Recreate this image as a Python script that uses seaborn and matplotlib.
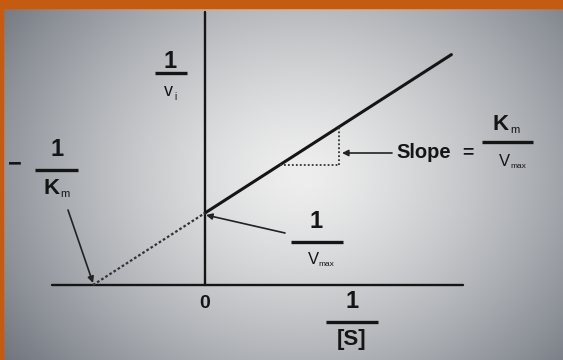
import numpy as np
import matplotlib
matplotlib.use("Agg")
import matplotlib.pyplot as plt
import seaborn as sns
from matplotlib.patches import Rectangle

# ---- data (Lineweaver-Burk) ----
Km = 1.0
Vmax = 1.0
x_solid = [0.0, 2.2]
x_dotted = [-1.0 / Km, 0.0]
x_axis_span = [-1.37, 2.30]
y_axis_span = [0.0, 3.79]
tri_x = [0.67, 1.20]

def line(x):
    return [Km / Vmax * xi + 1.0 / Vmax for xi in x]

sns.set_theme(style="white")
plt.rcParams["font.family"] = ["Liberation Sans", "DejaVu Sans"]

fig = plt.figure(figsize=(5.63, 3.60), dpi=100)
ax = fig.add_axes([0, 0, 1, 1])
X0, Y0, SX, SY = 205.0, 285.0, 112.0, 72.0
xlim = (-X0 / SX, (563 - X0) / SX)
ylim = ((Y0 - 360) / SY, Y0 / SY)
ax.set_xlim(*xlim)
ax.set_ylim(*ylim)
ax.axis("off")

def P(px, py):
    return ((px - X0) / SX, (Y0 - py) / SY)

# background gradient
W, H = 563, 360
gx, gy = np.meshgrid(np.arange(W), np.arange(H))
d = np.sqrt(((gx - 300) / 330.0) ** 2 + ((gy - 175) / 270.0) ** 2)
t = np.clip(d, 0, 1.2) / 1.2
t = t ** 1.4
c0 = np.array([238, 238, 238]) / 255.0
c1 = np.array([100, 106, 116]) / 255.0
img = c0[None, None, :] * (1 - t[..., None]) + c1[None, None, :] * t[..., None]
ax.imshow(img, extent=(xlim[0], xlim[1], ylim[0], ylim[1]), origin="upper",
          aspect="auto", zorder=0, interpolation="bilinear")

dark = "#151515"
# axes
ax.plot(x_axis_span, [0, 0], color=dark, lw=1.7, zorder=2)
ax.plot([0, 0], y_axis_span, color=dark, lw=1.7, zorder=2)

# data lines
sns.lineplot(x=x_solid, y=line(x_solid), ax=ax, color=dark, lw=2.2, zorder=3)
sns.lineplot(x=x_dotted, y=line(x_dotted), ax=ax, color="#333333", lw=1.6,
             linestyle=(0, (1.2, 1.0)), zorder=3)

# slope triangle
ty = line(tri_x)
ax.plot(tri_x, [ty[0], ty[0]], color="#333333", lw=1.3, linestyle=(0, (1, 1.2)), zorder=3)
ax.plot([tri_x[1], tri_x[1]], [ty[0], ty[1]], color="#333333", lw=1.3,
        linestyle=(0, (1, 1.2)), zorder=3)

def txt(px, py, s, size, weight="bold", color=dark):
    ax.text(*P(px, py), s, ha="center", va="center", fontsize=size,
            fontweight=weight, color=color, zorder=5)

def bar(x1, x2, py, lw=2.4):
    a = P(x1, py); b = P(x2, py)
    ax.plot([a[0], b[0]], [a[1], b[1]], color=dark, lw=lw, solid_capstyle="butt", zorder=5)

def arrow(start, end):
    ax.annotate("", xy=P(*end), xytext=P(*start),
                arrowprops=dict(arrowstyle="-|>", lw=1.2, color="#222222",
                                mutation_scale=9, shrinkA=0, shrinkB=0), zorder=5)

# 1 / v_i
txt(170, 61, "1", 17)
bar(155, 187, 73)
txt(168, 92, "v", 13, "normal")
txt(175, 97, "i", 7, "normal")

# - 1 / K_m
txt(15, 164, "\u2212", 17)
txt(57, 150, "1", 17)
bar(35, 78, 170)
txt(52, 188, "K", 16)
txt(65, 194, "m", 8, "normal")

# 1 / V_max
txt(316, 221, "1", 17)
bar(291, 343, 242)
txt(313, 260, "V", 12, "normal")
txt(326, 264, "max", 6, "normal")

# 0 and 1/[S]
txt(205, 304, "0", 14)
txt(352, 302, "1", 17)
bar(326, 378, 322)
txt(352, 339, "[S]", 16)

# Slope = Km / Vmax
txt(424, 153, "Slope", 14.5)
txt(468, 153, "=", 14)
txt(501, 124, "K", 16)
txt(515, 130, "m", 8, "normal")
bar(482, 533, 142)
txt(504, 162, "V", 12, "normal")
txt(518, 166, "max", 6, "normal")

# arrows
arrow((68, 210), (93, 283))
arrow((285, 233), (206, 215))
arrow((392, 153), (342, 153))

# orange frame
fig.patches.append(Rectangle((0, 1 - 8 / 360), 1, 8 / 360, transform=fig.transFigure,
                             color="#C55A11", zorder=10))
fig.patches.append(Rectangle((0, 0), 3 / 563, 1, transform=fig.transFigure,
                             color="#C55A11", zorder=10))

fig.savefig("out.png", dpi=100)
